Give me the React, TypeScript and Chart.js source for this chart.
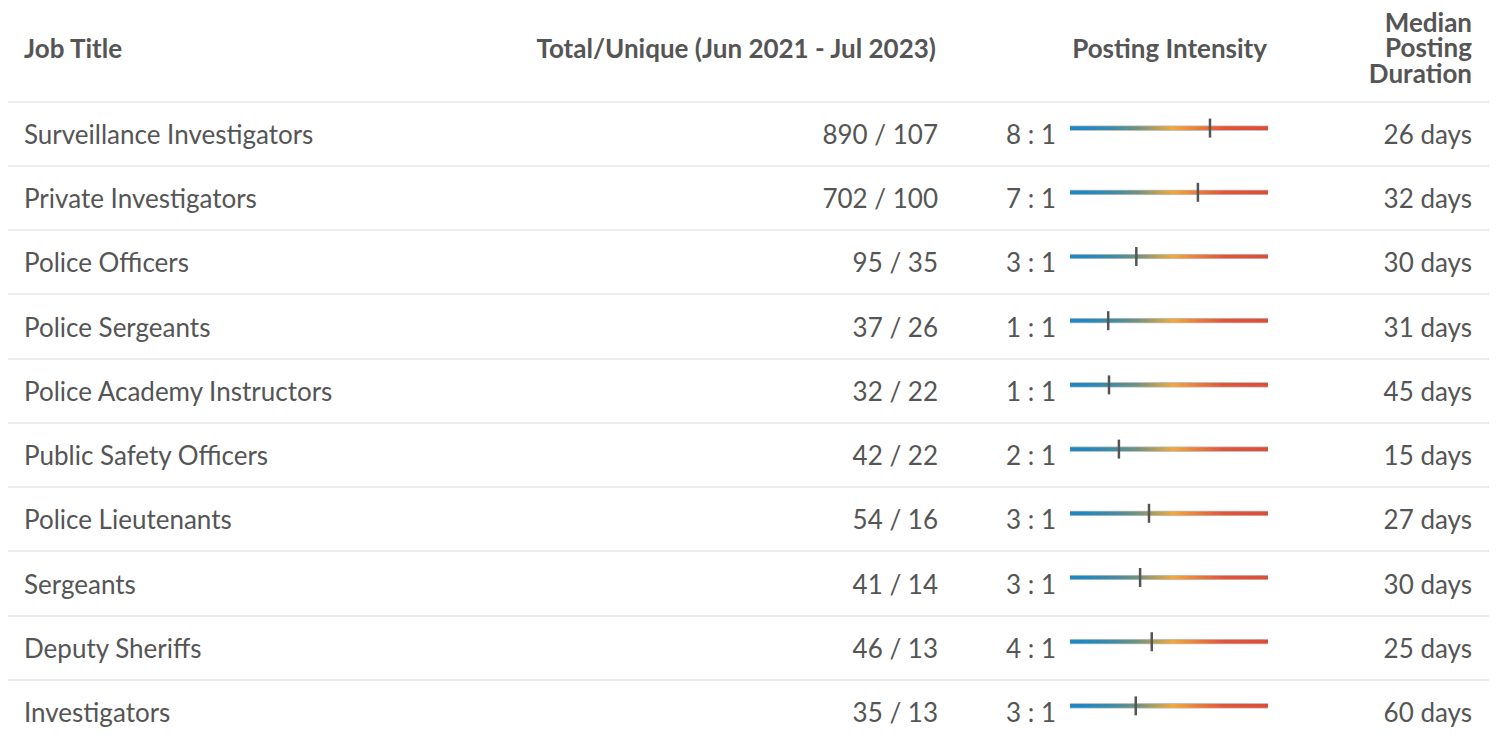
import React, { useEffect, useRef } from "react";
import { Chart, registerables } from "chart.js";

Chart.register(...registerables);

const jobTitles = [
  "Surveillance Investigators",
  "Private Investigators",
  "Police Officers",
  "Police Sergeants",
  "Police Academy Instructors",
  "Public Safety Officers",
  "Police Lieutenants",
  "Sergeants",
  "Deputy Sheriffs",
  "Investigators",
];
const totalPostings = [890, 702, 95, 37, 32, 42, 54, 41, 46, 35];
const uniquePostings = [107, 100, 35, 26, 22, 22, 16, 14, 13, 13];
const intensityRatio = [8, 7, 3, 1, 1, 2, 3, 3, 4, 3];
// marker position along the intensity track (0 = low, 100 = high)
const intensityPosition = [70.7, 64.6, 33.5, 19.3, 19.7, 24.7, 39.9, 35.4, 41.3, 33.2];
const medianDurationDays = [26, 32, 30, 31, 45, 15, 27, 30, 25, 60];

const headers = {
  title: "Job Title",
  totals: "Total/Unique (Jun 2021 - Jul 2023)",
  intensity: "Posting Intensity",
  duration: ["Median", "Posting", "Duration"],
};

const TEXT = "#555555";
const HEADER_H = 92.7;
const ROW_H = 64.24;
const W = 1481;
const FS = 26;

function IntensityChart() {
  const ref = useRef<HTMLCanvasElement>(null);
  useEffect(() => {
    if (!ref.current) return;
    const chart = new Chart(ref.current, {
      type: "bar",
      data: {
        labels: jobTitles,
        datasets: [
          {
            type: "scatter" as any,
            data: intensityPosition.map((v, i) => ({ x: v, y: jobTitles[i] })) as any,
            pointStyle: "line",
            rotation: 90,
            radius: 9.5,
            borderWidth: 2.5,
            borderColor: "#555555",
            backgroundColor: "#555555",
            clip: false,
            order: 0,
          } as any,
          {
            type: "bar",
            data: jobTitles.map(() => [0, 100]) as any,
            barThickness: 5,
            borderWidth: { top: 1, bottom: 1, left: 0, right: 0 } as any,
            borderColor: "rgba(185,185,185,0.9)",
            borderSkipped: false,
            backgroundColor: (ctx: any) => {
              const area = ctx.chart.chartArea;
              if (!area) return "#1d87c4";
              const g = ctx.chart.ctx.createLinearGradient(area.left, 0, area.right, 0);
              g.addColorStop(0, "#1a87c6");
              g.addColorStop(0.07, "#1f88c2");
              g.addColorStop(0.22, "#3f8ca6");
              g.addColorStop(0.34, "#71927f");
              g.addColorStop(0.44, "#b7a158");
              g.addColorStop(0.52, "#f4a83b");
              g.addColorStop(0.64, "#ec7d3a");
              g.addColorStop(0.78, "#e25437");
              g.addColorStop(1, "#e04b36");
              return g;
            },
            order: 1,
          } as any,
        ],
      },
      options: {
        indexAxis: "y",
        responsive: false,
        animation: false,
        layout: { padding: 0, autoPadding: false },
        plugins: { legend: { display: false }, tooltip: { enabled: false } },
        scales: {
          x: { type: "linear", min: 0, max: 100, display: false },
          y: { type: "category", display: false, offset: true },
        },
      },
    });
    return () => chart.destroy();
  }, []);
  return (
    <canvas
      ref={ref}
      width={198}
      height={642}
      style={{ position: "absolute", left: 1062, top: HEADER_H + 2 - 6.4, width: 198, height: 642 }}
    />
  );
}

export default function App() {
  const font = "Lato, 'Noto Sans', sans-serif";
  const rowCenter = (i: number) => HEADER_H + 2 + i * ROW_H + (ROW_H - 2) / 2;
  const cell = (i: number, extra: React.CSSProperties): React.CSSProperties => ({
    position: "absolute",
    display: "flex",
    alignItems: "center",
    whiteSpace: "nowrap",
    top: rowCenter(i) - 20,
    height: 40,
    fontSize: FS,
    ...extra,
  });
  const head = (extra: React.CSSProperties): React.CSSProperties => ({
    position: "absolute",
    display: "flex",
    alignItems: "center",
    whiteSpace: "nowrap",
    top: 0,
    height: 80,
    fontWeight: 700,
    fontSize: FS,
    ...extra,
  });
  return (
    <div
      style={{
        position: "relative",
        width: W,
        height: 725,
        fontFamily: font,
        color: TEXT,
        background: "#fff",
      }}
    >
      {/* header */}
      <div style={head({ left: 16 })}>{headers.title}</div>
      <div style={head({ right: 553 })}>{headers.totals}</div>
      <div style={head({ right: 222 })}>{headers.intensity}</div>
      <div style={head({ right: 17, lineHeight: "25.5px", textAlign: "right" })}>
        <div>
          {headers.duration.map((t) => (
            <div key={t}>{t}</div>
          ))}
        </div>
      </div>
      {/* dividers */}
      {jobTitles.map((_, i) => (
        <div
          key={"d" + i}
          style={{ position: "absolute", left: 0, width: W, top: HEADER_H + i * ROW_H, height: 2, background: "#ececec" }}
        />
      ))}
      {/* rows */}
      {jobTitles.map((t, i) => (
        <React.Fragment key={t}>
          <div style={cell(i, { left: 16 })}>{t}</div>
          <div style={cell(i, { right: 551 })}>
            {totalPostings[i]} / {uniquePostings[i]}
          </div>
          <div style={cell(i, { right: 433 })}>{intensityRatio[i]} : 1</div>
          <div style={cell(i, { right: 17 })}>{medianDurationDays[i]} days</div>
        </React.Fragment>
      ))}
      <IntensityChart />
    </div>
  );
}
